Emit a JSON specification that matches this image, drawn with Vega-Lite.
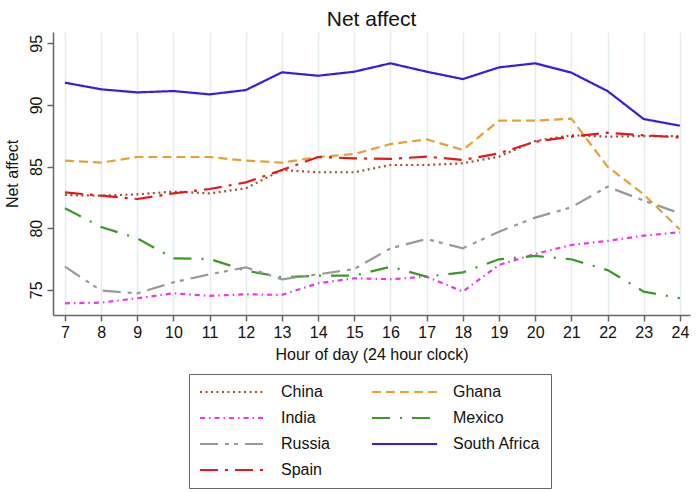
{
  "$schema": "https://vega.github.io/schema/vega-lite/v6.json",
  "autosize": "none",
  "width": 637,
  "height": 283,
  "padding": {"left": 53, "top": 32, "right": 6, "bottom": 177},
  "background": "white",
  "title": {"text": "Net affect", "fontSize": 21, "font": "Liberation Sans", "fontWeight": "normal", "color": "#111111", "anchor": "middle", "offset": 2},
  "config": {"view": {"stroke": null}, "font": "Liberation Sans"},
  "data": {"values": [
    {"hour": 7, "country": "China", "value": 82.70}, {"hour": 8, "country": "China", "value": 82.64}, {"hour": 9, "country": "China", "value": 82.75}, {"hour": 10, "country": "China", "value": 82.97}, {"hour": 11, "country": "China", "value": 82.83}, {"hour": 12, "country": "China", "value": 83.24}, {"hour": 13, "country": "China", "value": 84.72}, {"hour": 14, "country": "China", "value": 84.54}, {"hour": 15, "country": "China", "value": 84.54}, {"hour": 16, "country": "China", "value": 85.13}, {"hour": 17, "country": "China", "value": 85.13}, {"hour": 18, "country": "China", "value": 85.27}, {"hour": 19, "country": "China", "value": 85.81}, {"hour": 20, "country": "China", "value": 87.08}, {"hour": 21, "country": "China", "value": 87.54}, {"hour": 22, "country": "China", "value": 87.43}, {"hour": 23, "country": "China", "value": 87.48}, {"hour": 24, "country": "China", "value": 87.48},
    {"hour": 7, "country": "Ghana", "value": 85.48}, {"hour": 8, "country": "Ghana", "value": 85.32}, {"hour": 9, "country": "Ghana", "value": 85.78}, {"hour": 10, "country": "Ghana", "value": 85.78}, {"hour": 11, "country": "Ghana", "value": 85.78}, {"hour": 12, "country": "Ghana", "value": 85.48}, {"hour": 13, "country": "Ghana", "value": 85.32}, {"hour": 14, "country": "Ghana", "value": 85.78}, {"hour": 15, "country": "Ghana", "value": 86.02}, {"hour": 16, "country": "Ghana", "value": 86.83}, {"hour": 17, "country": "Ghana", "value": 87.21}, {"hour": 18, "country": "Ghana", "value": 86.35}, {"hour": 19, "country": "Ghana", "value": 88.73}, {"hour": 20, "country": "Ghana", "value": 88.73}, {"hour": 21, "country": "Ghana", "value": 88.89}, {"hour": 22, "country": "Ghana", "value": 85.0}, {"hour": 23, "country": "Ghana", "value": 82.75}, {"hour": 24, "country": "Ghana", "value": 79.9},
    {"hour": 7, "country": "India", "value": 73.91}, {"hour": 8, "country": "India", "value": 73.96}, {"hour": 9, "country": "India", "value": 74.32}, {"hour": 10, "country": "India", "value": 74.72}, {"hour": 11, "country": "India", "value": 74.51}, {"hour": 12, "country": "India", "value": 74.64}, {"hour": 13, "country": "India", "value": 74.59}, {"hour": 14, "country": "India", "value": 75.53}, {"hour": 15, "country": "India", "value": 75.94}, {"hour": 16, "country": "India", "value": 75.86}, {"hour": 17, "country": "India", "value": 76.07}, {"hour": 18, "country": "India", "value": 74.86}, {"hour": 19, "country": "India", "value": 77.02}, {"hour": 20, "country": "India", "value": 77.91}, {"hour": 21, "country": "India", "value": 78.64}, {"hour": 22, "country": "India", "value": 78.97}, {"hour": 23, "country": "India", "value": 79.40}, {"hour": 24, "country": "India", "value": 79.67},
    {"hour": 7, "country": "Mexico", "value": 81.62}, {"hour": 8, "country": "Mexico", "value": 80.1}, {"hour": 9, "country": "Mexico", "value": 79.18}, {"hour": 10, "country": "Mexico", "value": 77.56}, {"hour": 11, "country": "Mexico", "value": 77.51}, {"hour": 12, "country": "Mexico", "value": 76.56}, {"hour": 13, "country": "Mexico", "value": 76.02}, {"hour": 14, "country": "Mexico", "value": 76.15}, {"hour": 15, "country": "Mexico", "value": 76.15}, {"hour": 16, "country": "Mexico", "value": 76.88}, {"hour": 17, "country": "Mexico", "value": 76.07}, {"hour": 18, "country": "Mexico", "value": 76.42}, {"hour": 19, "country": "Mexico", "value": 77.48}, {"hour": 20, "country": "Mexico", "value": 77.75}, {"hour": 21, "country": "Mexico", "value": 77.48}, {"hour": 22, "country": "Mexico", "value": 76.6}, {"hour": 23, "country": "Mexico", "value": 74.86}, {"hour": 24, "country": "Mexico", "value": 74.32},
    {"hour": 7, "country": "Russia", "value": 76.88}, {"hour": 8, "country": "Russia", "value": 74.94}, {"hour": 9, "country": "Russia", "value": 74.72}, {"hour": 10, "country": "Russia", "value": 75.61}, {"hour": 11, "country": "Russia", "value": 76.26}, {"hour": 12, "country": "Russia", "value": 76.83}, {"hour": 13, "country": "Russia", "value": 75.86}, {"hour": 14, "country": "Russia", "value": 76.26}, {"hour": 15, "country": "Russia", "value": 76.69}, {"hour": 16, "country": "Russia", "value": 78.37}, {"hour": 17, "country": "Russia", "value": 79.13}, {"hour": 18, "country": "Russia", "value": 78.37}, {"hour": 19, "country": "Russia", "value": 79.72}, {"hour": 20, "country": "Russia", "value": 80.86}, {"hour": 21, "country": "Russia", "value": 81.70}, {"hour": 22, "country": "Russia", "value": 83.37}, {"hour": 23, "country": "Russia", "value": 82.24}, {"hour": 24, "country": "Russia", "value": 81.21},
    {"hour": 7, "country": "South Africa", "value": 91.81}, {"hour": 8, "country": "South Africa", "value": 91.27}, {"hour": 9, "country": "South Africa", "value": 91.02}, {"hour": 10, "country": "South Africa", "value": 91.13}, {"hour": 11, "country": "South Africa", "value": 90.86}, {"hour": 12, "country": "South Africa", "value": 91.21}, {"hour": 13, "country": "South Africa", "value": 92.65}, {"hour": 14, "country": "South Africa", "value": 92.37}, {"hour": 15, "country": "South Africa", "value": 92.70}, {"hour": 16, "country": "South Africa", "value": 93.38}, {"hour": 17, "country": "South Africa", "value": 92.70}, {"hour": 18, "country": "South Africa", "value": 92.10}, {"hour": 19, "country": "South Africa", "value": 93.05}, {"hour": 20, "country": "South Africa", "value": 93.38}, {"hour": 21, "country": "South Africa", "value": 92.62}, {"hour": 22, "country": "South Africa", "value": 91.13}, {"hour": 23, "country": "South Africa", "value": 88.86}, {"hour": 24, "country": "South Africa", "value": 88.32},
    {"hour": 7, "country": "Spain", "value": 82.91}, {"hour": 8, "country": "Spain", "value": 82.64}, {"hour": 9, "country": "Spain", "value": 82.37}, {"hour": 10, "country": "Spain", "value": 82.83}, {"hour": 11, "country": "Spain", "value": 83.18}, {"hour": 12, "country": "Spain", "value": 83.72}, {"hour": 13, "country": "Spain", "value": 84.72}, {"hour": 14, "country": "Spain", "value": 85.78}, {"hour": 15, "country": "Spain", "value": 85.67}, {"hour": 16, "country": "Spain", "value": 85.62}, {"hour": 17, "country": "Spain", "value": 85.81}, {"hour": 18, "country": "Spain", "value": 85.54}, {"hour": 19, "country": "Spain", "value": 86.08}, {"hour": 20, "country": "Spain", "value": 87.02}, {"hour": 21, "country": "Spain", "value": 87.43}, {"hour": 22, "country": "Spain", "value": 87.75}, {"hour": 23, "country": "Spain", "value": 87.54}, {"hour": 24, "country": "Spain", "value": 87.37}
  ]},
  "mark": {"type": "line", "strokeWidth": 2.2, "clip": true},
  "encoding": {
    "x": {
      "field": "hour", "type": "quantitative",
      "scale": {"domain": [6.67, 24.28], "nice": false, "zero": false},
      "axis": {
        "title": "Hour of day (24 hour clock)",
        "values": [7, 8, 9, 10, 11, 12, 13, 14, 15, 16, 17, 18, 19, 20, 21, 22, 23, 24],
        "grid": true, "gridColor": "#e4eef0", "gridWidth": 1.5,
        "domainColor": "#666666", "domainWidth": 1.5,
        "tickColor": "#666666", "tickWidth": 1.5, "tickSize": 6,
        "labelFontSize": 16, "labelColor": "#111111", "labelPadding": 3, "labelFlush": false,
        "titleFontSize": 16, "titleFontWeight": "normal", "titleColor": "#111111", "titlePadding": 6
      }
    },
    "y": {
      "field": "value", "type": "quantitative",
      "scale": {"domain": [72.96, 95.92], "nice": false, "zero": false},
      "axis": {
        "title": "Net affect",
        "values": [75, 80, 85, 90, 95],
        "grid": false,
        "domainColor": "#666666", "domainWidth": 1.5,
        "tickColor": "#666666", "tickWidth": 1.5, "tickSize": 6,
        "labelFontSize": 16, "labelColor": "#111111", "labelAngle": -90, "labelPadding": 3, "labelFlush": false,
        "titleFontSize": 16, "titleFontWeight": "normal", "titleColor": "#111111", "titlePadding": 8
      }
    },
    "color": {
      "field": "country", "type": "nominal",
      "scale": {
        "domain": ["China", "Ghana", "India", "Mexico", "Russia", "South Africa", "Spain"],
        "range": ["#a0522d", "#e8a030", "#ee33ee", "#3a9a25", "#999999", "#3b1ae6", "#e8151b"]
      },
      "legend": {
        "title": null,
        "orient": "none", "legendX": 136, "legendY": 342,
        "direction": "horizontal",
        "columns": 2, "columnPadding": 38, "rowPadding": 10,
        "symbolType": "M-1,0H8.3", "symbolSize": 196, "symbolStrokeWidth": 2,
        "labelFontSize": 16, "labelColor": "#111111", "labelOffset": 66, "labelLimit": 200,
        "strokeColor": "#666666", "padding": 10, "fillColor": "white"
      }
    },
    "strokeDash": {
      "field": "country", "type": "nominal",
      "scale": {
        "domain": ["China", "Ghana", "India", "Mexico", "Russia", "South Africa", "Spain"],
        "range": [[2, 3.5], [9, 5], [5, 4, 1.5, 4], [18, 10, 2, 10], [18, 7, 4, 5, 4, 7], [1, 0], [18, 7, 3, 7]]
      },
      "legend": null
    }
  }
}
